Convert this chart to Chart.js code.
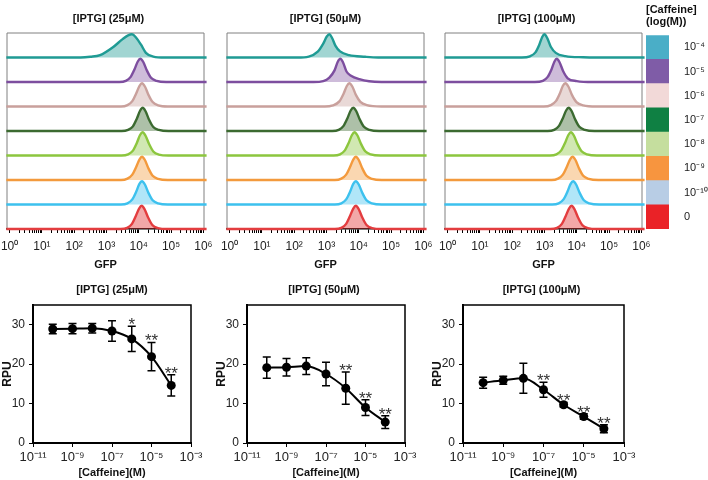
<!DOCTYPE html>
<html>
<head>
<meta charset="utf-8">
<script src="https://cdn.jsdelivr.net/npm/chart.js@4.4.1/dist/chart.umd.min.js"></script>
<style>
  body { margin: 0; background: #fff; }
  #fig { position: relative; width: 708px; height: 480px; overflow: hidden; background: #fff; }
  #fig canvas { position: absolute; }
</style>
</head>
<body>
<div id="fig"></div>
<script>
// ---------- data: GFP histograms (x = log10 GFP, h = fraction of peak height) ----------
const iptgTitles = ['[IPTG] (25μM)', '[IPTG] (50μM)', '[IPTG] (100μM)'];
const caffeineLevels = ['10⁻⁴', '10⁻⁵', '10⁻⁶', '10⁻⁷', '10⁻⁸', '10⁻⁹', '10⁻¹⁰', '0'];
const gfpTickLabels = ['10⁰', '10¹', '10²', '10³', '10⁴', '10⁵', '10⁶'];

// rows listed top (10^-4 M caffeine) to bottom (no caffeine)
const hist25 = [
  [[2.2,0],[2.5,0.03],[2.8,0.1],[3.2,0.44],[3.5,0.79],[3.67,0.95],[3.79,1],[3.92,0.85],[4.07,0.55],[4.22,0.2],[4.45,0.04],[4.8,0]],
  [[3.4,0],[3.6,0.05],[3.75,0.22],[3.87,0.55],[3.97,0.88],[4.05,1],[4.14,0.86],[4.25,0.5],[4.38,0.18],[4.55,0.05],[4.85,0]],
  [[3.45,0],[3.65,0.06],[3.8,0.23],[3.92,0.56],[4.02,0.88],[4.1,1],[4.19,0.86],[4.3,0.5],[4.43,0.19],[4.6,0.05],[4.9,0]],
  [[3.47,0],[3.67,0.05],[3.82,0.2],[3.94,0.53],[4.04,0.87],[4.12,1],[4.21,0.85],[4.32,0.48],[4.45,0.17],[4.62,0.05],[4.92,0]],
  [[3.47,0],[3.67,0.05],[3.82,0.21],[3.94,0.54],[4.04,0.88],[4.12,1],[4.21,0.85],[4.32,0.49],[4.45,0.17],[4.62,0.04],[4.92,0]],
  [[3.45,0],[3.65,0.06],[3.8,0.23],[3.92,0.56],[4.02,0.88],[4.1,1],[4.19,0.86],[4.3,0.5],[4.43,0.18],[4.6,0.05],[4.9,0]],
  [[3.45,0],[3.65,0.05],[3.8,0.22],[3.92,0.55],[4.02,0.89],[4.1,1],[4.19,0.86],[4.3,0.5],[4.43,0.18],[4.6,0.05],[4.9,0]],
  [[3.44,0],[3.64,0.05],[3.79,0.22],[3.91,0.56],[4.01,0.88],[4.09,1],[4.18,0.85],[4.29,0.49],[4.42,0.17],[4.59,0.04],[4.89,0]]
];
const hist50 = [
  [[2.1,0],[2.45,0.04],[2.73,0.25],[2.9,0.6],[3.01,0.9],[3.09,1],[3.17,0.85],[3.28,0.5],[3.42,0.26],[3.7,0.1],[4.2,0.03],[4.6,0]],
  [[2.6,0],[2.9,0.04],[3.09,0.19],[3.25,0.5],[3.35,0.87],[3.43,1],[3.51,0.85],[3.62,0.45],[3.76,0.27],[4.02,0.12],[4.32,0.03],[4.7,0]],
  [[2.95,0],[3.2,0.05],[3.4,0.22],[3.53,0.55],[3.63,0.88],[3.71,1],[3.8,0.86],[3.91,0.5],[4.05,0.2],[4.25,0.06],[4.7,0]],
  [[3.18,0],[3.38,0.05],[3.53,0.22],[3.65,0.55],[3.75,0.88],[3.83,1],[3.92,0.86],[4.03,0.5],[4.16,0.18],[4.33,0.05],[4.63,0]],
  [[3.22,0],[3.42,0.05],[3.57,0.22],[3.69,0.55],[3.79,0.88],[3.87,1],[3.96,0.86],[4.07,0.5],[4.2,0.18],[4.37,0.05],[4.67,0]],
  [[3.26,0],[3.46,0.06],[3.61,0.23],[3.73,0.56],[3.83,0.88],[3.91,1],[4.0,0.86],[4.11,0.5],[4.24,0.18],[4.41,0.05],[4.71,0]],
  [[3.26,0],[3.46,0.05],[3.61,0.22],[3.73,0.55],[3.83,0.89],[3.91,1],[4.0,0.86],[4.11,0.5],[4.24,0.18],[4.41,0.05],[4.71,0]],
  [[3.26,0],[3.46,0.05],[3.61,0.22],[3.73,0.56],[3.83,0.88],[3.91,1],[4.0,0.85],[4.11,0.49],[4.24,0.17],[4.41,0.04],[4.71,0]]
];
const hist100 = [
  [[2.3,0],[2.55,0.05],[2.72,0.22],[2.84,0.55],[2.93,0.88],[3.0,1],[3.09,0.82],[3.2,0.45],[3.35,0.2],[3.65,0.06],[4.2,0.01],[4.6,0]],
  [[2.7,0],[2.95,0.05],[3.1,0.22],[3.22,0.55],[3.31,0.88],[3.38,1],[3.47,0.84],[3.58,0.46],[3.72,0.16],[4.0,0.04],[4.5,0]],
  [[2.98,0],[3.2,0.06],[3.36,0.24],[3.48,0.57],[3.57,0.89],[3.65,1],[3.74,0.86],[3.85,0.5],[3.99,0.19],[4.2,0.05],[4.6,0]],
  [[3.1,0],[3.3,0.05],[3.45,0.22],[3.57,0.55],[3.67,0.88],[3.75,1],[3.84,0.86],[3.95,0.5],[4.08,0.18],[4.25,0.05],[4.55,0]],
  [[3.17,0],[3.37,0.05],[3.52,0.22],[3.64,0.55],[3.74,0.88],[3.82,1],[3.91,0.86],[4.02,0.5],[4.15,0.18],[4.32,0.05],[4.62,0]],
  [[3.22,0],[3.42,0.06],[3.57,0.23],[3.69,0.56],[3.79,0.88],[3.87,1],[3.96,0.86],[4.07,0.5],[4.2,0.18],[4.37,0.05],[4.67,0]],
  [[3.24,0],[3.44,0.05],[3.59,0.22],[3.71,0.55],[3.81,0.89],[3.89,1],[3.98,0.86],[4.09,0.5],[4.22,0.18],[4.39,0.05],[4.69,0]],
  [[3.19,0],[3.39,0.05],[3.54,0.22],[3.66,0.56],[3.76,0.88],[3.84,1],[3.93,0.85],[4.04,0.49],[4.17,0.17],[4.34,0.04],[4.64,0]]
];
const gfpRange = [-0.1, 6.1];   // baseline runs across the whole axis

// ---------- data: RPU dose response ----------
const caffeineConc = [1e-10, 1e-9, 1e-8, 1e-7, 1e-6, 1e-5, 1e-4];
const rpu25 = [28.9, 29.0, 29.1, 28.4, 26.4, 21.9, 14.6];
const err25 = [1.2, 1.3, 1.2, 2.6, 3.2, 3.6, 2.7];
const sig25 = ['', '', '', '', '*', '**', '**'];
const rpu50 = [19.1, 19.2, 19.5, 17.5, 13.9, 9.0, 5.3];
const err50 = [2.7, 2.2, 2.1, 3.0, 4.1, 2.0, 1.6];
const sig50 = ['', '', '', '', '**', '**', '**'];
const rpu100 = [15.3, 15.9, 16.4, 13.5, 9.7, 6.7, 3.6];
const err100 = [1.4, 1.0, 3.8, 1.9, 0.6, 0.7, 1.0];
const sig100 = ['', '', '', '**', '**', '**', '**'];
const caffeineTicks = [1e-11, 1e-9, 1e-7, 1e-5, 1e-3];
const caffeineTickLabels = ['10⁻¹¹', '10⁻⁹', '10⁻⁷', '10⁻⁵', '10⁻³'];
const rpuTicks = [0, 10, 20, 30];

// ---------- styling ----------
const lineColors = ['#1f9b94', '#7d4e9f', '#c9a09c', '#3b6a30', '#8cc63e', '#f39a3d', '#3dc1ee', '#e33d3f'];
const fillColors = ['rgba(31,155,148,0.42)', 'rgba(125,78,159,0.38)', 'rgba(201,160,156,0.4)', 'rgba(59,106,48,0.42)',
                    'rgba(140,198,62,0.4)', 'rgba(243,154,61,0.4)', 'rgba(61,193,238,0.4)', 'rgba(227,61,63,0.45)'];
const legendColors = ['#4aaec7', '#7f5ca7', '#f2d9d8', '#0f8043', '#c5de9e', '#f7953f', '#b8cde5', '#ea2227'];
const PEAK = 0.95;
const FONT = 'Arial, "Liberation Sans", sans-serif';

Chart.defaults.font.family = FONT;
Chart.defaults.color = '#1a1a1a';
Chart.defaults.animation = false;

// minor + major ticks of the GFP axis (log10 units)
const gfpAxisTicks = [];
for (let n = 0; n < 6; n++) for (let k = 1; k < 10; k++) gfpAxisTicks.push(n + Math.log10(k));
gfpAxisTicks.push(6);

function addCanvas(left, top, w, h) {
  const c = document.createElement('canvas');
  c.width = w; c.height = h;
  c.style.left = left + 'px'; c.style.top = top + 'px';
  c.style.width = w + 'px'; c.style.height = h + 'px';
  document.getElementById('fig').appendChild(c);
  return c;
}

// title centred over the plot area
const panelTitle = {
  id: 'panelTitle',
  afterDraw(chart, args, o) {
    if (!o.text) return;
    const { ctx, chartArea } = chart;
    ctx.save();
    ctx.font = 'bold 11px ' + FONT;
    ctx.fillStyle = '#111';
    ctx.textAlign = 'center';
    ctx.textBaseline = 'middle';
    ctx.fillText(o.text, (chartArea.left + chartArea.right) / 2 + (o.dx || 0), o.y);
    ctx.restore();
  }
};

// box around plot area
const frame = {
  id: 'frame',
  beforeDatasetsDraw(chart, args, o) {
    if (!o.color) return;
    const { ctx } = chart;
    const { left, top, right, bottom } = chart.chartArea;
    ctx.save();
    ctx.strokeStyle = o.color;
    ctx.lineWidth = o.width;
    ctx.beginPath();
    ctx.moveTo(left, bottom);
    ctx.lineTo(left, top);
    ctx.lineTo(right, top);
    ctx.lineTo(right, bottom);
    ctx.stroke();
    ctx.restore();
  }
};

// error bars and significance marks
const errorBars = {
  id: 'errorBars',
  beforeDatasetsDraw(chart, args, o) {
    if (!o.err) return;
    const { ctx, scales: { x, y } } = chart;
    ctx.save();
    ctx.strokeStyle = '#000';
    ctx.lineWidth = 1.5;
    chart.data.datasets[0].data.forEach((p, i) => {
      const px = x.getPixelForValue(p.x);
      const hi = y.getPixelForValue(p.y + o.err[i]);
      const lo = y.getPixelForValue(p.y - o.err[i]);
      ctx.beginPath();
      ctx.moveTo(px, hi); ctx.lineTo(px, lo);
      ctx.moveTo(px - 4, hi); ctx.lineTo(px + 4, hi);
      ctx.moveTo(px - 4, lo); ctx.lineTo(px + 4, lo);
      ctx.stroke();
    });
    ctx.restore();
  },
  afterDatasetsDraw(chart, args, o) {
    if (!o.sig) return;
    const { ctx, scales: { x, y } } = chart;
    ctx.save();
    ctx.font = '17px ' + FONT;
    ctx.fillStyle = '#333';
    ctx.textAlign = 'center';
    ctx.textBaseline = 'alphabetic';
    chart.data.datasets[0].data.forEach((p, i) => {
      if (!o.sig[i]) return;
      const px = x.getPixelForValue(p.x);
      const hi = y.getPixelForValue(p.y + o.err[i]);
      ctx.fillText(o.sig[i], px, hi + 4);
    });
    ctx.restore();
  }
};

Chart.register(panelTitle, frame, errorBars);

function histChart(left, width, padL, padR, curves, title, dx) {
  const canvas = addCanvas(left, 0, width, 280);
  const datasets = curves.map((pts, i) => {
    const row = curves.length - 1 - i;
    const full = [[gfpRange[0], 0], ...pts, [gfpRange[1], 0]];
    return {
      data: full.map(p => ({ x: p[0], y: row + p[1] * PEAK })),
      borderColor: lineColors[i],
      backgroundColor: fillColors[i],
      borderWidth: 2.4,
      pointRadius: 0,
      fill: { value: row },
      cubicInterpolationMode: 'monotone',
      clip: 4
    };
  });
  new Chart(canvas, {
    type: 'line',
    data: { datasets },
    options: {
      responsive: false,
      devicePixelRatio: 1,
      layout: { padding: { left: padL, right: padR, top: 33, bottom: 0 } },
      plugins: {
        legend: { display: false },
        tooltip: { enabled: false },
        panelTitle: { text: title, y: 19, dx },
        frame: { color: '#808080', width: 1 }
      },
      scales: {
        x: {
          type: 'linear', min: -0.08, max: 6.02,
          afterBuildTicks: s => { s.ticks = gfpAxisTicks.map(v => ({ value: v })); },
          afterFit: s => { s.height = 51; s.paddingLeft = 0; s.paddingRight = 0; },
          ticks: {
            autoSkip: false, maxRotation: 0, padding: 6, color: '#222', font: { size: 12 },
            callback: v => Number.isInteger(v) ? gfpTickLabels[v] : ''
          },
          grid: { display: true, drawOnChartArea: false, tickLength: 4, color: '#000', tickWidth: 1 },
          border: { display: true, color: '#000', width: 1.5 },
          title: { display: true, text: 'GFP', color: '#111', font: { size: 11, weight: 'bold' }, padding: { top: 0, bottom: 8 } }
        },
        y: { display: false, min: 0, max: 8 }
      }
    }
  });
}

function rpuChart(left, width, padR, values, errs, sigs, title, dx) {
  const canvas = addCanvas(left, 280, width, 200);
  new Chart(canvas, {
    type: 'line',
    data: {
      datasets: [{
        data: caffeineConc.map((c, i) => ({ x: c, y: values[i] })),
        borderColor: '#000',
        borderWidth: 2,
        pointRadius: 4.5,
        pointBackgroundColor: '#000',
        pointBorderWidth: 0,
        cubicInterpolationMode: 'monotone',
        fill: false
      }]
    },
    options: {
      responsive: false,
      devicePixelRatio: 1,
      layout: { padding: { left: 0, right: padR, top: 25, bottom: 0 } },
      plugins: {
        legend: { display: false },
        tooltip: { enabled: false },
        panelTitle: { text: title, y: 10, dx },
        frame: { color: '#000', width: 1.5 },
        errorBars: { err: errs, sig: sigs }
      },
      scales: {
        x: {
          type: 'logarithmic', min: 1e-11, max: 1e-3,
          afterBuildTicks: s => { s.ticks = caffeineTicks.map(v => ({ value: v })); },
          afterFit: s => { s.height = 37; s.paddingLeft = 0; s.paddingRight = 0; },
          ticks: { autoSkip: false, maxRotation: 0, padding: 3, color: '#222', font: { size: 13 },
                   callback: (v, i) => caffeineTickLabels[i] },
          grid: { display: true, drawOnChartArea: false, tickLength: 4, color: '#000' },
          border: { display: true, color: '#000', width: 2 },
          title: { display: true, text: '[Caffeine](M)', color: '#111', font: { size: 11, weight: 'bold' }, padding: { top: 0, bottom: 0 } }
        },
        y: {
          min: 0, max: 35,
          afterBuildTicks: s => { s.ticks = rpuTicks.map(v => ({ value: v })); },
          afterFit: s => { s.width = 33; s.paddingTop = 0; s.paddingBottom = 0; },
          ticks: { padding: 4, color: '#222', font: { size: 12 } },
          grid: { display: true, drawOnChartArea: false, tickLength: 4, color: '#000' },
          border: { display: true, color: '#000', width: 2 },
          title: { display: true, text: 'RPU', color: '#111', font: { size: 12, weight: 'bold' }, padding: { top: 0, bottom: 0 } }
        }
      }
    }
  });
}

// top row
histChart(0, 214, 7, 10, hist25, iptgTitles[0], 3);
histChart(218, 215, 9, 9, hist50, iptgTitles[1], 0);
histChart(436, 215, 9, 9, hist100, iptgTitles[2], -7);

// colour key
const keyCanvas = addCanvas(640, 0, 68, 280);
new Chart(keyCanvas, {
  type: 'bar',
  data: {
    labels: [''],
    datasets: caffeineLevels.map((lab, i) => ({
      label: lab, data: [1], backgroundColor: legendColors[i], borderWidth: 0,
      barPercentage: 1, categoryPercentage: 1
    })).reverse()
  },
  options: {
    responsive: false,
    devicePixelRatio: 1,
    layout: { padding: { left: 6, right: 0, top: 4, bottom: 51 } },
    plugins: {
      legend: { display: false },
      tooltip: { enabled: false },
      title: { display: true, text: ['[Caffeine]', '(log(M))'], align: 'start', color: '#111',
               font: { size: 11, weight: 'bold', lineHeight: 1.1 }, padding: { top: 0, bottom: 7 } }
    },
    scales: {
      x: { display: false, stacked: true },
      y: {
        position: 'right', stacked: true, min: 0, max: 8,
        afterBuildTicks: s => { s.ticks = caffeineLevels.map((_, i) => ({ value: i + 0.5 })); },
        afterFit: s => { s.width = 39; s.paddingTop = 0; s.paddingBottom = 0; },
        ticks: { padding: 7, color: '#222', font: { size: 11 },
                 callback: v => caffeineLevels[7 - Math.floor(v)] },
        grid: { display: false },
        border: { display: false }
      }
    }
  }
});

// bottom row
rpuChart(0, 205, 14, rpu25, err25, sig25, iptgTitles[0], 0);
rpuChart(214, 205, 14, rpu50, err50, sig50, iptgTitles[1], -2);
rpuChart(430, 208, 14, rpu100, err100, sig100, iptgTitles[2], -2);
</script>
</body>
</html>
